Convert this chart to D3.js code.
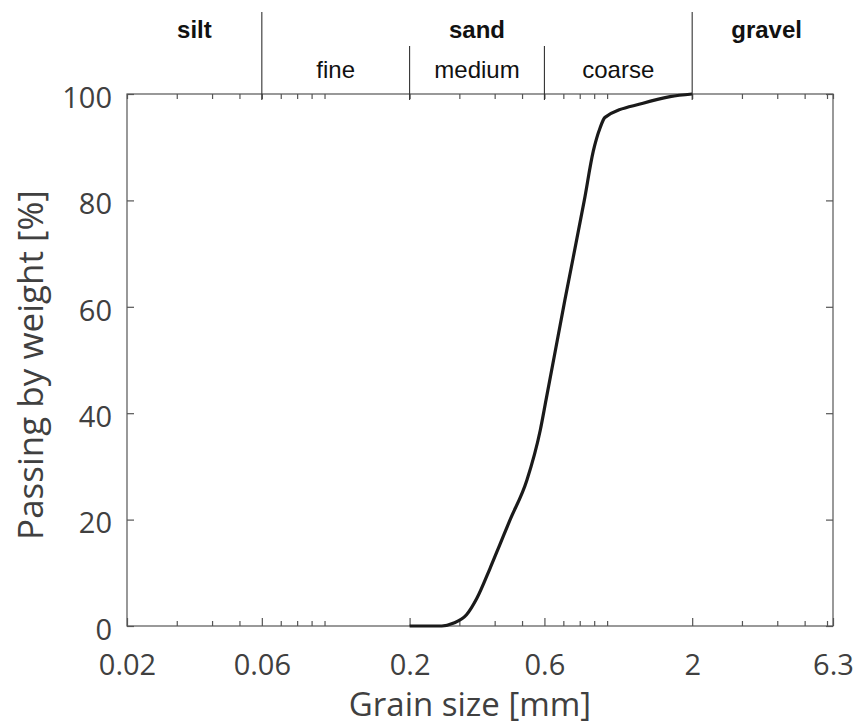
<!DOCTYPE html>
<html>
<head>
<meta charset="utf-8">
<script src="https://cdn.jsdelivr.net/npm/d3@7"></script>
<style>
  html, body { margin: 0; padding: 0; background: #fff; }
  svg { display: block; }
</style>
</head>
<body>
<svg id="chart" width="853" height="727"></svg>
<script>
// Grain size distribution (sieve curve)
const grainSize = [0.2, 0.26, 0.285, 0.318, 0.346, 0.385, 0.418, 0.453, 0.52, 0.58, 0.608, 0.709, 0.831, 0.893, 0.944, 0.983, 1.34, 1.67, 2.0];
const passing   = [0,   0,    0.5,   2.1,   5.2,   10.8,  15.4,  19.9,  27.4, 36.8, 42.5,  61.3,  80.1,  89.2,  93.6,  95.6,  98.25, 99.5, 100];

const xTickValues = [0.02, 0.06, 0.2, 0.6, 2, 6.3];
const xTickLabels = ["0.02", "0.06", "0.2", "0.6", "2", "6.3"];
const yTickValues = [0, 20, 40, 60, 80, 100];

// Soil class bands along the top
const mainClasses = ["silt", "sand", "gravel"];
const mainBounds  = [0.02, 0.06, 2, 6.3];
const sandClasses = ["fine", "medium", "coarse"];
const sandBounds  = [0.06, 0.2, 0.6, 2];

const margin = { left: 127, right: 20, top: 94, bottom: 101 };
const W = 853, H = 727;
const svg = d3.select("#chart");

const x = d3.scaleLog().domain([0.02, 6.3]).range([margin.left, W - margin.right]);
const y = d3.scaleLinear().domain([0, 100]).range([H - margin.bottom, margin.top]);

const axisColor = "#555";
const labelColor = "#404040";
const labelFont = "'Open Sans', sans-serif";

// minor log ticks (everything on the standard log grid that is not a labelled tick)
const minorTicks = x.ticks(30).filter(v => v > 0.02 && v < 6.3 &&
  !xTickValues.some(t => Math.abs(t - v) / t < 1e-6));

const plot = svg.append("g");

// frame
plot.append("rect")
  .attr("x", x.range()[0]).attr("y", y(100))
  .attr("width", x.range()[1] - x.range()[0]).attr("height", y(0) - y(100))
  .attr("fill", "none").attr("stroke", axisColor).attr("stroke-width", 1.2);

// bottom axis: labelled ticks
const xAxis = d3.axisBottom(x).tickValues(xTickValues)
  .tickFormat((d, i) => xTickLabels[i]).tickSizeInner(-8).tickSizeOuter(0).tickPadding(23);
const gx = plot.append("g").attr("transform", `translate(0,${y(0)})`).call(xAxis);
gx.select(".domain").remove();
gx.selectAll(".tick line").attr("stroke", axisColor).attr("stroke-width", 1.2);
gx.selectAll(".tick text").attr("fill", labelColor)
  .style("font-family", labelFont).style("font-size", "29px").attr("dy", "0.88em");

// bottom/top minor ticks
const gMinorB = plot.append("g").attr("transform", `translate(0,${y(0)})`)
  .call(d3.axisBottom(x).tickValues(minorTicks).tickFormat("").tickSizeInner(-5).tickSizeOuter(0));
const gTop = plot.append("g").attr("transform", `translate(0,${y(100)})`)
  .call(d3.axisTop(x).tickValues(minorTicks.concat(xTickValues)).tickFormat("").tickSizeInner(-5).tickSizeOuter(0));
[gMinorB, gTop].forEach(g => {
  g.select(".domain").remove();
  g.selectAll(".tick line").attr("stroke", axisColor).attr("stroke-width", 1.2);
});

// left axis
const gy = plot.append("g").attr("transform", `translate(${x.range()[0]},0)`)
  .call(d3.axisLeft(y).tickValues(yTickValues).tickSizeInner(-7).tickSizeOuter(0).tickPadding(15));
gy.select(".domain").remove();
gy.selectAll(".tick line").attr("stroke", axisColor).attr("stroke-width", 1.2);
gy.selectAll(".tick text").attr("fill", labelColor)
  .style("font-family", labelFont).style("font-size", "29px").attr("dy", "0.46em");

// right axis ticks
const gyR = plot.append("g").attr("transform", `translate(${x.range()[1]},0)`)
  .call(d3.axisRight(y).tickValues(yTickValues).tickFormat("").tickSizeInner(-7).tickSizeOuter(0));
gyR.select(".domain").remove();
gyR.selectAll(".tick line").attr("stroke", axisColor).attr("stroke-width", 1.2);

// axis titles
svg.append("text")
  .attr("x", 470).attr("y", 716)
  .attr("text-anchor", "middle").attr("fill", labelColor)
  .style("font-family", labelFont).style("font-size", "33px")
  .text("Grain size [mm]");
svg.append("text")
  .attr("transform", `translate(43,${(y(0) + y(100)) / 2 + 5}) rotate(-90)`)
  .attr("text-anchor", "middle").attr("fill", labelColor)
  .style("font-family", labelFont).style("font-size", "35px")
  .text("Passing by weight [%]");

// class divider lines
const header = svg.append("g");
const lineColor = "#333";
[0.06, 2].forEach(v => header.append("line")
  .attr("x1", x(v)).attr("x2", x(v)).attr("y1", 12).attr("y2", y(100) + 6)
  .attr("stroke", lineColor).attr("stroke-width", 1.1));
[0.2, 0.6].forEach(v => header.append("line")
  .attr("x1", x(v)).attr("x2", x(v)).attr("y1", 46).attr("y2", y(100) + 6)
  .attr("stroke", lineColor).attr("stroke-width", 1.1));

// class names
const geoMid = (a, b) => Math.sqrt(a * b);
mainClasses.forEach((name, i) => header.append("text")
  .attr("x", x(geoMid(mainBounds[i], mainBounds[i + 1])) + (i === 2 ? 4 : 0)).attr("y", 38)
  .attr("text-anchor", "middle").attr("fill", "#111")
  .style("font-family", "'Liberation Sans', Arial, sans-serif")
  .style("font-weight", "bold").style("font-size", "24px")
  .text(name));
sandClasses.forEach((name, i) => header.append("text")
  .attr("x", x(geoMid(sandBounds[i], sandBounds[i + 1]))).attr("y", 78)
  .attr("text-anchor", "middle").attr("fill", "#111")
  .style("font-family", "'Liberation Sans', Arial, sans-serif")
  .style("font-size", "24px")
  .text(name));

// grading curve
const pts = grainSize.map((g, i) => [g, passing[i]]);
plot.append("path")
  .datum(pts)
  .attr("fill", "none").attr("stroke", "#1a1a1a").attr("stroke-width", 3.2)
  .attr("stroke-linejoin", "round")
  .attr("d", d3.line().x(d => x(d[0])).y(d => y(d[1])).curve(d3.curveMonotoneX));
</script>
</body>
</html>
